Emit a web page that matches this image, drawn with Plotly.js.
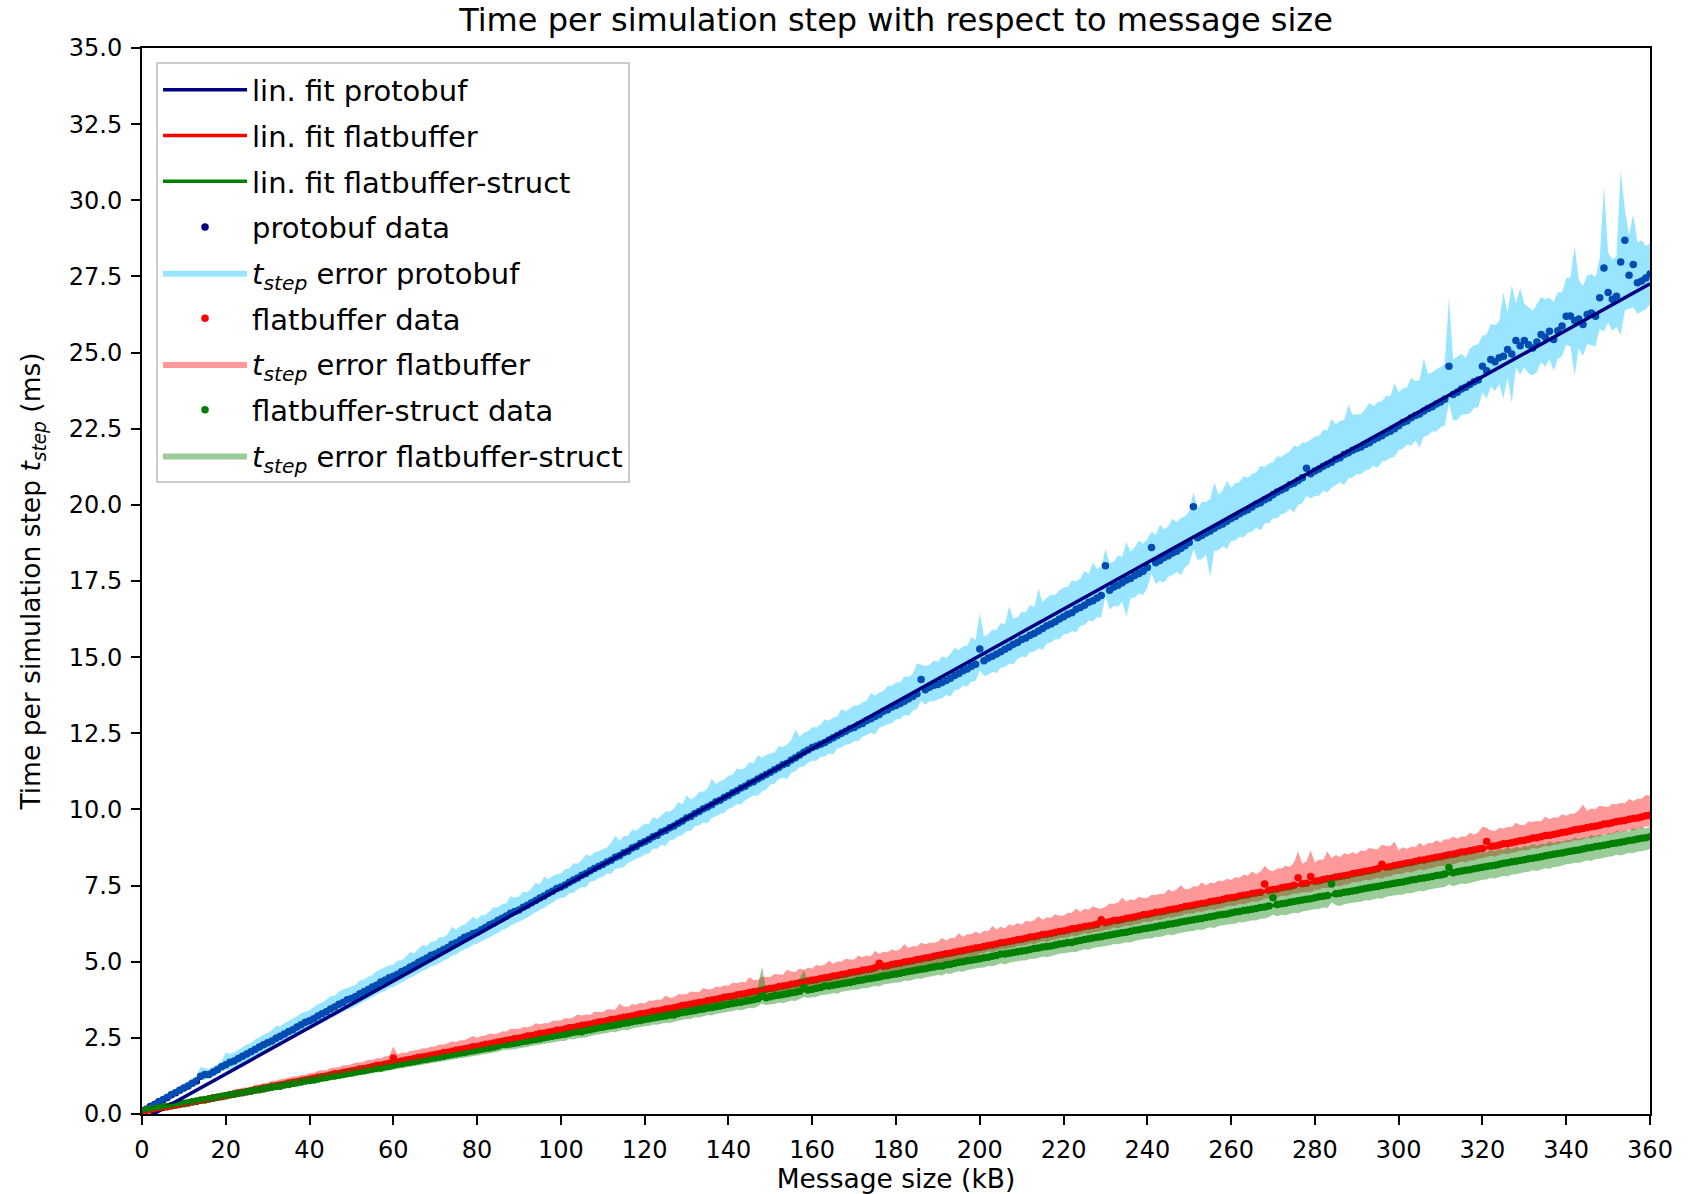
<!DOCTYPE html>
<html><head><meta charset="utf-8">
<script src="https://cdn.plot.ly/plotly-3.0.1.min.js"></script>
<style>html,body{margin:0;padding:0;background:#fff}</style>
</head><body><div id="chart" style="width:1691px;height:1194px"></div>
<script>
const sizeKB = [
0,1,2,3,4,5,6,7,8,9,10,11,12,13,14,15,16,17,18,19,20,21,22,23,24,25,26,27,28,29,
30,31,32,33,34,35,36,37,38,39,40,41,42,43,44,45,46,47,48,49,50,51,52,53,54,55,56,57,58,59,
60,61,62,63,64,65,66,67,68,69,70,71,72,73,74,75,76,77,78,79,80,81,82,83,84,85,86,87,88,89,
90,91,92,93,94,95,96,97,98,99,100,101,102,103,104,105,106,107,108,109,110,111,112,113,114,115,116,117,118,119,
120,121,122,123,124,125,126,127,128,129,130,131,132,133,134,135,136,137,138,139,140,141,142,143,144,145,146,147,148,149,
150,151,152,153,154,155,156,157,158,159,160,161,162,163,164,165,166,167,168,169,170,171,172,173,174,175,176,177,178,179,
180,181,182,183,184,185,186,187,188,189,190,191,192,193,194,195,196,197,198,199,200,201,202,203,204,205,206,207,208,209,
210,211,212,213,214,215,216,217,218,219,220,221,222,223,224,225,226,227,228,229,230,231,232,233,234,235,236,237,238,239,
240,241,242,243,244,245,246,247,248,249,250,251,252,253,254,255,256,257,258,259,260,261,262,263,264,265,266,267,268,269,
270,271,272,273,274,275,276,277,278,279,280,281,282,283,284,285,286,287,288,289,290,291,292,293,294,295,296,297,298,299,
300,301,302,303,304,305,306,307,308,309,310,311,312,313,314,315,316,317,318,319,320,321,322,323,324,325,326,327,328,329,
330,331,332,333,334,335,336,337,338,339,340,341,342,343,344,345,346,347,348,349,350,351,352,353,354,355,356,357,358,359,360];

const protoY = [
0.10,0.16,0.25,0.31,0.40,0.47,0.54,0.63,0.70,0.78,
0.85,0.92,1.01,1.08,1.24,1.30,1.30,1.38,1.45,1.55,
1.62,1.70,1.74,1.82,1.90,1.97,2.04,2.12,2.20,2.27,
2.34,2.40,2.49,2.55,2.63,2.71,2.77,2.86,2.93,3.01,
3.06,3.13,3.22,3.29,3.36,3.45,3.51,3.60,3.66,3.75,
3.79,3.86,3.95,4.01,4.09,4.17,4.23,4.33,4.39,4.47,
4.52,4.59,4.68,4.74,4.83,4.89,4.98,5.05,5.12,5.21,
5.25,5.33,5.40,5.47,5.57,5.62,5.71,5.80,5.85,5.93,
5.97,6.05,6.12,6.21,6.27,6.36,6.43,6.50,6.59,6.65,
6.70,6.79,6.85,6.94,7.01,7.09,7.16,7.25,7.31,7.40,
7.45,7.52,7.61,7.68,7.75,7.84,7.90,7.99,8.06,8.13,
8.19,8.27,8.33,8.43,8.48,8.58,8.63,8.73,8.78,8.88,
8.94,9.01,9.10,9.15,9.26,9.31,9.40,9.46,9.55,9.62,
9.72,9.77,9.87,9.93,10.02,10.08,10.15,10.25,10.30,10.39,
10.46,10.55,10.61,10.70,10.76,10.86,10.91,11.00,11.07,11.15,
11.22,11.30,11.38,11.47,11.52,11.62,11.70,11.79,11.88,11.95,
12.03,12.08,12.14,12.20,12.28,12.35,12.43,12.50,12.57,12.65,
12.69,12.77,12.82,12.92,12.98,13.05,13.12,13.22,13.27,13.36,
13.41,13.48,13.55,13.63,13.71,13.80,14.27,13.93,14.01,14.08,
14.10,14.17,14.23,14.31,14.40,14.46,14.55,14.61,14.70,14.77,
15.27,14.88,14.97,15.03,15.10,15.18,15.26,15.33,15.42,15.48,
15.58,15.63,15.72,15.78,15.86,15.94,16.03,16.09,16.16,16.25,
16.33,16.41,16.46,16.57,16.63,16.70,16.80,16.85,16.94,17.02,
18.00,17.20,17.30,17.36,17.44,17.53,17.58,17.68,17.75,17.82,
17.94,18.60,18.10,18.17,18.27,18.33,18.42,18.48,18.57,18.66,
18.76,19.94,18.92,18.99,19.08,19.14,19.23,19.31,19.37,19.46,
19.55,19.62,19.71,19.78,19.84,19.93,20.02,20.07,20.17,20.23,
20.33,20.42,20.49,20.55,20.66,20.71,20.80,20.89,21.20,21.02,
21.11,21.18,21.27,21.33,21.40,21.50,21.55,21.65,21.71,21.79,
21.85,21.90,21.98,22.04,22.14,22.20,22.27,22.36,22.42,22.50,
22.60,22.70,22.75,22.86,22.93,22.98,23.08,23.16,23.22,23.31,
23.38,23.47,24.55,23.62,23.70,23.80,23.86,23.95,24.04,24.10,
24.55,24.40,24.77,24.70,24.83,24.88,25.10,24.95,25.40,25.22,
25.40,25.26,25.15,25.35,25.59,25.50,25.70,25.43,25.72,25.87,
26.19,26.20,26.05,26.10,25.92,26.25,26.30,26.19,26.80,27.78,
26.97,26.75,26.85,27.97,28.69,27.54,27.89,27.29,27.35,27.45,27.58];

const protoErrLo = [
.08,.08,.09,.09,.10,.10,.10,.11,.11,.12,
.12,.12,.13,.13,.10,.18,.14,.14,.15,.15,
.18,.22,.22,.23,.23,.23,.24,.24,.25,.25,
.25,.27,.26,.26,.28,.27,.28,.27,.29,.28,
.30,.28,.29,.30,.31,.30,.31,.32,.31,.32,
.33,.31,.33,.32,.34,.34,.32,.34,.35,.33,
.35,.34,.36,.34,.36,.35,.37,.35,.37,.36,
.37,.38,.36,.38,.37,.39,.37,.39,.38,.37,
.38,.40,.38,.40,.39,.41,.39,.41,.40,.39,
.39,.41,.39,.41,.39,.38,.40,.38,.37,.36,
.36,.40,.35,.42,.37,.39,.46,.36,.41,.38,
.40,.37,.44,.39,.42,.48,.39,.43,.40,.45,
.41,.46,.39,.44,.42,.51,.41,.45,.42,.47,
.43,.48,.41,.46,.44,.53,.42,.47,.45,.50,
.44,.49,.43,.54,.46,.48,.45,.56,.47,.50,
.40,.46,.39,.43,.52,.41,.45,.40,.48,.42,
.43,.49,.41,.46,.44,.55,.42,.47,.45,.50,
.44,.52,.43,.48,.46,.58,.45,.49,.47,.53,
.46,.51,.45,.56,.47,.50,.70,.49,.46,.54,
.48,.53,.47,.60,.49,.52,.48,.57,.50,.55,
.70,.50,.56,.52,.62,.53,.58,.54,.66,.55,
.56,.63,.55,.60,.57,.70,.58,.61,.57,.66,
.58,.64,.60,.75,.61,.65,.60,.68,.62,.72,
1.00,.64,.62,.70,.63,1.20,.65,.72,.66,.78,
.66,.85,.70,.67,.82,.69,.73,.68,.88,.71,
.70,1.40,.72,.78,.71,1.50,.74,.80,.73,.90,
.74,.79,.76,.85,.75,.81,.77,.92,.78,.83,
.78,.86,.80,.82,.79,.95,.80,.84,.90,.81,
.82,.88,.81,.92,.83,.86,.82,1.00,.84,.89,
.84,.90,.85,.88,.86,.98,.85,.91,.87,.93,
.80,.86,.78,.92,.82,1.10,.84,.88,.81,.90,
.83,.87,1.20,.85,.91,.84,.89,.95,.86,.90,
.85,.92,.88,.96,.87,1.40,.90,1.60,.89,.94,
.88,.95,.90,.99,.91,.97,.92,1.02,.93,.98,
.94,1.00,1.80,.96,1.03,.97,1.05,.99,1.02,2.10,
.98,1.04,1.00,2.40,2.30,1.10,1.40,1.02,.99,1.03,1.00];

const protoErrHi = [
.10,.10,.11,.11,.12,.12,.13,.13,.14,.14,
.15,.15,.16,.16,.30,.20,.17,.17,.18,.18,
.40,.27,.28,.29,.30,.31,.29,.33,.31,.34,
.32,.35,.40,.33,.36,.34,.37,.35,.38,.36,
.35,.38,.39,.36,.40,.42,.37,.41,.43,.38,
.40,.38,.44,.41,.42,.39,.46,.42,.44,.41,
.38,.44,.37,.42,.48,.39,.43,.51,.40,.45,
.42,.47,.40,.44,.58,.42,.46,.41,.49,.54,
.42,.48,.41,.46,.52,.43,.47,.42,.56,.45,
.44,.51,.43,.47,.58,.45,.64,.46,.50,.47,
.45,.52,.44,.55,.47,.50,.63,.47,.53,.49,
.51,.48,.57,.71,.49,.55,.50,.60,.52,.54,
.59,.51,.65,.53,.55,.62,.52,.57,.69,.55,
.75,.56,.54,.64,.57,.61,.87,.58,.63,.59,
.65,.58,.73,.60,.62,.69,.61,.77,.63,.64,
.62,.57,.70,.58,.61,.66,.92,.60,.64,.61,
.68,.61,.65,.76,.63,.67,.62,.80,.65,.68,
.72,.64,.70,.66,.84,.68,.72,.67,.78,.70,
.76,.69,.82,.72,.74,1.00,.48,.78,.73,.80,
.75,.86,.74,.79,.92,.77,.81,.76,.96,.79,
1.18,.80,.77,.88,.79,.94,.82,1.34,.85,.83,
.90,.84,1.00,.86,1.38,.87,.92,.97,.88,.94,
.96,.89,1.06,.91,.95,1.14,.92,1.24,.96,.94,
.55,.88,.84,.98,.86,1.25,.88,.93,1.08,.90,
.94,.52,.91,1.18,.93,.97,1.12,.95,1.00,.97,
1.02,.48,.98,1.10,1.01,1.05,1.50,1.03,1.10,1.32,
1.02,1.10,1.03,1.17,1.05,1.09,1.04,1.21,1.07,1.13,
1.06,1.18,1.08,1.13,1.09,1.25,1.11,1.16,.85,1.12,
1.13,1.09,1.19,1.12,1.42,1.15,1.21,1.14,1.58,1.17,
1.12,1.08,1.16,1.31,1.10,1.18,1.13,1.22,1.15,1.50,
1.10,1.12,1.11,1.31,1.13,1.12,1.73,1.14,1.13,1.15,
1.14,1.16,2.25,1.15,1.17,1.16,0.97,1.18,1.20,1.17,
1.00,1.19,1.18,1.20,1.19,2.10,1.21,2.27,1.22,1.90,
1.21,1.23,1.22,1.24,1.23,1.25,1.10,1.24,1.26,1.10,
1.25,1.27,2.44,1.28,1.27,1.29,1.28,1.30,1.29,2.68,
1.31,1.30,1.32,3.00,1.00,1.33,1.64,1.32,1.34,1.05,1.00];

const flatY = [
0.10,0.12,0.14,0.16,0.19,0.21,0.24,0.26,0.29,0.31,
0.34,0.36,0.39,0.41,0.45,0.46,0.49,0.53,0.55,0.57,
0.60,0.63,0.66,0.69,0.71,0.73,0.76,0.80,0.82,0.85,
0.87,0.91,0.93,0.95,0.98,1.02,1.04,1.06,1.09,1.12,
1.14,1.17,1.21,1.22,1.25,1.28,1.32,1.33,1.36,1.39,
1.41,1.44,1.48,1.49,1.52,1.55,1.59,1.60,1.63,1.66,
1.84,1.71,1.74,1.77,1.79,1.82,1.86,1.87,1.90,1.93,
1.95,1.98,2.02,2.03,2.06,2.09,2.12,2.14,2.17,2.21,
2.22,2.25,2.29,2.30,2.33,2.36,2.39,2.41,2.44,2.48,
2.49,2.52,2.56,2.57,2.60,2.64,2.65,2.68,2.71,2.75,
2.76,2.79,2.83,2.84,2.87,2.91,2.92,2.95,2.98,3.02,
3.03,3.06,3.10,3.11,3.14,3.18,3.19,3.22,3.25,3.29,
3.30,3.33,3.37,3.38,3.41,3.45,3.46,3.49,3.52,3.56,
3.58,3.60,3.64,3.66,3.68,3.72,3.74,3.76,3.79,3.83,
3.85,3.87,3.91,3.93,3.95,3.99,4.01,4.03,4.06,4.10,
4.12,4.14,4.18,4.20,4.22,4.26,4.28,4.31,4.33,4.37,
4.39,4.41,4.45,4.47,4.49,4.53,4.55,4.58,4.60,4.64,
4.66,4.68,4.72,4.74,4.76,4.80,4.95,4.85,4.87,4.91,
4.93,4.95,4.99,5.01,5.03,5.07,5.09,5.12,5.14,5.18,
5.20,5.23,5.26,5.28,5.31,5.34,5.36,5.39,5.42,5.45,
5.47,5.50,5.53,5.55,5.58,5.62,5.63,5.66,5.69,5.72,
5.74,5.77,5.81,5.82,5.85,5.89,5.90,5.93,5.96,5.99,
6.01,6.04,6.08,6.09,6.12,6.16,6.17,6.20,6.23,6.38,
6.28,6.31,6.35,6.36,6.39,6.43,6.44,6.47,6.50,6.54,
6.55,6.58,6.62,6.63,6.66,6.70,6.72,6.74,6.77,6.81,
6.83,6.85,6.89,6.91,6.93,6.97,6.99,7.01,7.04,7.08,
7.10,7.12,7.16,7.18,7.20,7.24,7.26,7.28,7.55,7.35,
7.37,7.39,7.43,7.45,7.47,7.51,7.76,7.56,7.58,7.80,
7.64,7.66,7.70,7.72,7.74,7.78,7.80,7.82,7.85,7.89,
7.91,7.94,7.97,7.99,8.02,8.05,8.20,8.10,8.12,8.16,
8.18,8.21,8.24,8.26,8.29,8.33,8.34,8.37,8.40,8.43,
8.45,8.48,8.51,8.53,8.56,8.60,8.61,8.64,8.67,8.70,
8.72,8.95,8.79,8.80,8.83,8.87,8.88,8.91,8.94,8.97,
8.99,9.02,9.06,9.07,9.10,9.14,9.15,9.18,9.21,9.24,
9.26,9.29,9.33,9.35,9.37,9.41,9.43,9.45,9.48,9.52,
9.53,9.56,9.60,9.62,9.64,9.68,9.70,9.72,9.75,9.79,9.81];

const flatErrLo = [
.04,.05,.04,.06,.05,.05,.07,.06,.06,.07,
.07,.08,.07,.08,.09,.08,.08,.10,.09,.09,
.09,.08,.10,.09,.09,.10,.10,.09,.11,.10,
.10,.11,.10,.11,.12,.11,.11,.12,.11,.12,
.12,.13,.12,.14,.13,.13,.14,.13,.14,.15,
.14,.15,.14,.15,.15,.14,.16,.15,.16,.16,
.19,.15,.16,.15,.17,.16,.16,.18,.16,.17,
.17,.18,.17,.17,.19,.18,.18,.19,.18,.19,
.18,.18,.19,.18,.19,.20,.18,.19,.20,.19,
.19,.20,.19,.21,.20,.19,.21,.20,.20,.21,
.20,.22,.20,.23,.21,.21,.24,.21,.23,.22,
.22,.24,.21,.23,.25,.22,.24,.22,.25,.23,
.23,.25,.22,.26,.23,.24,.23,.26,.24,.23,
.24,.26,.24,.27,.24,.25,.26,.24,.27,.25,
.25,.27,.25,.28,.26,.25,.27,.26,.28,.26,
.26,.28,.26,.29,.27,.26,.28,.27,.29,.27,
.27,.29,.27,.30,.28,.27,.29,.28,.30,.28,
.28,.30,.28,.31,.29,.28,.40,.29,.31,.29,
.29,.31,.29,.32,.30,.29,.31,.30,.32,.30,
.30,.32,.30,.33,.31,.30,.32,.31,.33,.31,
.20,.22,.19,.23,.21,.20,.24,.21,.23,.20,
.21,.23,.20,.24,.22,.21,.25,.22,.24,.21,
.22,.24,.21,.25,.23,.22,.26,.23,.25,.38,
.23,.25,.22,.26,.24,.23,.27,.24,.26,.23,
.24,.26,.23,.27,.25,.24,.28,.25,.27,.24,
.25,.27,.24,.28,.26,.25,.29,.26,.28,.25,
.26,.28,.25,.29,.27,.26,.30,.27,.48,.26,
.27,.29,.26,.30,.28,.27,.52,.28,.30,.52,
.28,.30,.27,.31,.29,.28,.32,.29,.31,.28,
.29,.31,.28,.32,.30,.29,.48,.30,.32,.29,
.30,.32,.29,.33,.31,.30,.34,.31,.33,.30,
.31,.33,.30,.34,.32,.31,.35,.32,.34,.31,
.32,.52,.31,.35,.33,.32,.36,.33,.35,.32,
.33,.35,.32,.36,.34,.33,.37,.34,.36,.33,
.34,.36,.33,.37,.35,.34,.38,.35,.37,.34,
.35,.37,.34,.38,.36,.35,.39,.36,.38,.35,.36];

const flatErrHi = [
.05,.05,.06,.07,.06,.07,.08,.07,.08,.09,
.08,.10,.09,.11,.10,.12,.10,.13,.11,.12,
.14,.12,.15,.13,.16,.14,.13,.17,.15,.16,
.15,.18,.16,.19,.17,.16,.20,.18,.19,.17,
.21,.18,.20,.22,.19,.23,.20,.21,.24,.21,
.22,.25,.21,.23,.26,.22,.24,.23,.27,.24,
.38,.25,.27,.24,.28,.26,.25,.29,.26,.28,
.27,.30,.26,.29,.33,.27,.30,.28,.31,.35,
.28,.31,.29,.34,.30,.28,.33,.30,.36,.31,
.30,.34,.29,.32,.38,.31,.33,.30,.35,.32,
.31,.36,.30,.34,.40,.32,.35,.31,.38,.33,
.32,.37,.34,.31,.48,.35,.33,.39,.34,.36,
.33,.40,.35,.38,.34,.44,.36,.34,.41,.37,
.35,.42,.37,.34,.46,.38,.36,.43,.37,.40,
.36,.44,.38,.41,.37,.50,.39,.37,.45,.40,
.38,.46,.40,.37,.52,.41,.39,.47,.40,.43,
.39,.48,.41,.44,.55,.40,.46,.42,.50,.43,
.41,.52,.43,.46,.42,.56,.30,.48,.44,.50,
.42,.47,.58,.44,.49,.43,.53,.45,.48,.44,
.46,.55,.44,.50,.47,.60,.45,.51,.48,.54,
.45,.52,.47,.62,.48,.53,.46,.57,.49,.55,
.47,.58,.50,.54,.64,.49,.56,.51,.60,.52,
.50,.57,.52,.66,.51,.58,.54,.62,.53,.36,
.52,.60,.55,.58,.72,.54,.61,.56,.63,.55,
.54,.62,.57,.60,.56,.68,.58,.64,.74,.57,
.56,.63,.58,.70,.57,.62,.59,.66,.60,.64,
.58,.65,.60,.68,.62,.72,.61,.67,.60,.66,
.60,.68,.63,.70,.64,.75,.86,.66,.72,.85,
.62,.70,.65,.90,.66,.72,.64,.74,.67,.70,
.63,.72,.66,.75,.68,.64,.64,.70,.67,.78,
.48,.55,.46,.52,.47,.58,.46,.53,.49,.56,
.47,.54,.50,.58,.48,.52,.49,.60,.50,.55,
.71,.45,.52,.49,.57,.50,.54,.51,.62,.52,
.50,.58,.53,.55,.51,.63,.53,.56,.52,.60,
.53,.57,.54,.62,.79,.55,.60,.56,.64,.57,
.55,.62,.57,.60,.56,.66,.58,.63,.60,.68,.65];

const structY = [
0.10,0.13,0.15,0.18,0.20,0.23,0.25,0.28,0.30,0.33,
0.35,0.37,0.40,0.43,0.45,0.48,0.50,0.52,0.55,0.58,
0.60,0.63,0.65,0.67,0.70,0.73,0.75,0.78,0.80,0.82,
0.85,0.88,0.90,0.91,0.95,0.97,1.00,1.03,1.05,1.08,
1.10,1.12,1.15,1.18,1.20,1.23,1.25,1.27,1.30,1.33,
1.35,1.38,1.40,1.42,1.45,1.48,1.50,1.51,1.55,1.57,
1.60,1.63,1.65,1.68,1.70,1.72,1.75,1.78,1.80,1.83,
1.85,1.87,1.90,1.93,1.95,1.98,2.00,2.02,2.05,2.08,
2.10,2.13,2.15,2.17,2.20,2.23,2.28,2.28,2.30,2.32,
2.35,2.38,2.40,2.43,2.45,2.47,2.50,2.53,2.55,2.58,
2.60,2.62,2.65,2.68,2.70,2.70,2.75,2.77,2.80,2.83,
2.85,2.88,2.90,2.92,2.95,2.98,3.00,3.03,3.05,3.07,
3.10,3.13,3.15,3.18,3.20,3.22,3.25,3.25,3.30,3.33,
3.35,3.37,3.40,3.43,3.45,3.48,3.50,3.52,3.55,3.58,
3.60,3.63,3.65,3.67,3.70,3.73,3.75,3.78,3.95,3.82,
3.85,3.88,3.90,3.92,3.95,3.98,4.00,4.03,4.17,4.07,
4.10,4.13,4.15,4.20,4.20,4.23,4.25,4.28,4.30,4.32,
4.35,4.38,4.40,4.43,4.45,4.47,4.50,4.53,4.55,4.58,
4.60,4.62,4.65,4.68,4.70,4.73,4.75,4.77,4.80,4.83,
4.85,4.86,4.90,4.92,4.95,4.98,5.00,5.03,5.05,5.07,
5.10,5.13,5.15,5.18,5.20,5.25,5.25,5.28,5.30,5.33,
5.35,5.37,5.40,5.43,5.45,5.48,5.50,5.52,5.55,5.58,
5.60,5.63,5.63,5.67,5.70,5.73,5.75,5.78,5.80,5.82,
5.85,5.88,5.90,5.93,5.95,5.97,6.00,6.03,6.05,6.08,
6.10,6.12,6.15,6.18,6.20,6.23,6.25,6.27,6.30,6.33,
6.35,6.38,6.40,6.42,6.45,6.48,6.50,6.53,6.55,6.57,
6.60,6.63,6.65,6.68,6.70,6.72,6.75,6.78,6.80,6.83,
7.10,6.88,6.90,6.92,6.95,6.98,7.00,7.03,7.05,7.07,
7.10,7.13,7.15,7.17,7.55,7.23,7.25,7.28,7.30,7.32,
7.35,7.38,7.40,7.43,7.45,7.47,7.50,7.53,7.55,7.58,
7.60,7.62,7.65,7.68,7.70,7.73,7.75,7.77,7.80,7.83,
7.85,7.88,8.09,7.92,7.95,7.98,8.00,8.02,8.05,8.08,
8.10,8.13,8.15,8.17,8.20,8.23,8.25,8.28,8.30,8.32,
8.35,8.38,8.40,8.42,8.45,8.48,8.50,8.53,8.55,8.57,
8.60,8.63,8.65,8.67,8.70,8.73,8.75,8.78,8.80,8.82,
8.85,8.88,8.90,8.92,8.95,8.98,9.00,9.03,9.05,9.07,9.10];

const structErrLo = [
.04,.04,.04,.05,.05,.05,.05,.05,.06,.06,
.06,.06,.06,.07,.07,.07,.07,.07,.08,.08,
.08,.08,.08,.08,.09,.09,.09,.09,.09,.10,
.10,.10,.10,.10,.10,.11,.11,.11,.11,.11,
.11,.12,.12,.12,.12,.12,.12,.13,.13,.13,
.13,.13,.13,.14,.14,.14,.14,.14,.14,.15,
.15,.15,.15,.15,.15,.16,.16,.16,.16,.16,
.16,.16,.17,.17,.17,.17,.17,.17,.18,.18,
.18,.18,.18,.18,.18,.19,.19,.19,.19,.19,
.19,.19,.20,.20,.20,.20,.20,.20,.20,.21,
.20,.22,.19,.23,.21,.20,.24,.21,.22,.21,
.21,.23,.20,.24,.22,.21,.25,.22,.23,.22,
.22,.24,.21,.25,.23,.22,.26,.23,.24,.23,
.23,.25,.22,.26,.24,.23,.27,.24,.25,.24,
.24,.26,.23,.27,.25,.24,.28,.25,.32,.25,
.25,.27,.24,.28,.26,.25,.29,.26,.33,.26,
.26,.28,.25,.29,.27,.26,.30,.27,.28,.27,
.27,.29,.26,.30,.28,.27,.31,.28,.29,.28,
.28,.30,.27,.31,.29,.28,.32,.29,.30,.29,
.29,.31,.28,.32,.30,.29,.33,.30,.31,.30,
.30,.32,.29,.33,.31,.30,.34,.31,.32,.31,
.31,.33,.30,.34,.32,.31,.35,.32,.33,.32,
.32,.34,.31,.35,.33,.32,.36,.33,.34,.33,
.33,.35,.32,.36,.34,.33,.37,.34,.35,.34,
.34,.36,.33,.37,.35,.34,.38,.35,.36,.35,
.35,.37,.34,.38,.36,.35,.39,.36,.37,.36,
.36,.38,.35,.39,.37,.36,.40,.37,.38,.37,
.55,.39,.36,.40,.38,.37,.41,.38,.39,.38,
.38,.40,.37,.41,.60,.38,.42,.39,.40,.39,
.39,.41,.38,.42,.40,.39,.43,.40,.41,.40,
.40,.42,.39,.43,.41,.40,.44,.41,.42,.41,
.41,.43,.55,.44,.42,.41,.45,.42,.43,.42,
.41,.43,.40,.44,.42,.41,.45,.42,.43,.42,
.41,.43,.40,.44,.42,.41,.45,.42,.43,.42,
.40,.42,.39,.43,.41,.40,.44,.41,.42,.41,
.40,.42,.39,.43,.41,.40,.44,.41,.42,.41,.40];

const structErrHi = [
.04,.04,.05,.05,.05,.05,.06,.06,.06,.06,
.06,.07,.07,.07,.07,.07,.08,.08,.08,.08,
.08,.09,.09,.09,.09,.09,.10,.10,.10,.10,
.10,.10,.11,.11,.11,.11,.11,.11,.12,.12,
.12,.12,.12,.12,.12,.13,.13,.13,.13,.13,
.13,.13,.14,.14,.14,.14,.14,.14,.14,.15,
.15,.15,.15,.15,.15,.15,.15,.15,.16,.16,
.16,.16,.16,.16,.16,.16,.17,.17,.17,.17,
.17,.17,.17,.17,.17,.18,.18,.18,.18,.18,
.18,.18,.18,.18,.18,.19,.19,.19,.19,.19,
.18,.22,.19,.24,.20,.21,.25,.20,.23,.21,
.22,.20,.26,.21,.24,.22,.27,.21,.25,.23,
.24,.21,.28,.23,.25,.22,.29,.24,.26,.23,
.25,.30,.24,.27,.23,.31,.25,.28,.24,.30,
.26,.29,.25,.32,.27,.26,.30,.40,.89,.28,
.27,.33,.26,.30,.28,.34,.27,.42,.56,.29,
.30,.28,.35,.29,.32,.30,.36,.29,.33,.31,
.32,.30,.37,.31,.34,.32,.38,.31,.35,.33,
.34,.31,.39,.33,.36,.34,.40,.33,.37,.35,
.36,.33,.41,.35,.38,.36,.42,.35,.39,.37,
.30,.27,.35,.29,.32,.30,.37,.29,.34,.31,
.32,.29,.38,.31,.34,.32,.40,.31,.36,.33,
.34,.31,.42,.33,.37,.34,.44,.33,.39,.36,
.37,.33,.46,.36,.52,.37,.42,.35,.48,.38,
.40,.36,.47,.39,.44,.40,.50,.38,.45,.42,
.42,.39,.52,.41,.47,.43,.54,.40,.48,.44,
.45,.41,.54,.43,.49,.45,.56,.42,.62,.46,
.30,.44,.57,.46,.52,.47,.58,.45,.53,.49,
.50,.46,.58,.48,.35,.50,.60,.47,.55,.51,
.52,.48,.62,.50,.56,.52,.60,.49,.57,.53,
.54,.50,.60,.52,.56,.53,.62,.51,.58,.54,
.53,.50,.42,.52,.55,.50,.58,.49,.54,.48,
.50,.46,.54,.45,.50,.44,.52,.42,.48,.41,
.45,.40,.47,.39,.43,.38,.45,.37,.41,.36,
.40,.36,.43,.35,.39,.34,.41,.34,.38,.33,
.37,.33,.40,.33,.36,.32,.38,.32,.35,.31,.33];

const fitX = [0, 360];
const protoFit = [-0.21, 27.26];
const flatFit = [0.04, 9.80];
const structFit = [0.10, 9.10];

const FONT = 'DejaVu Sans, Verdana, sans-serif';
const TSTEP = '<i>t</i><sub><i>step</i></sub>';

function band(x, y, lo, hi) {
  const up = y.map((v, i) => v + hi[i]);
  const dn = y.map((v, i) => v - lo[i]).reverse();
  return {x: x.concat(x.slice().reverse()), y: up.concat(dn)};
}

function dots(y, color, name, rank) {
  return {type: 'scatter', mode: 'markers', x: sizeKB, y: y, name: name,
    marker: {color: color, size: 7.5, line: {width: 0}},
    legendrank: rank, legendgroup: 'g' + rank, hoverinfo: 'x+y'};
}
function fillBand(y, lo, hi, color, name, rank) {
  const b = band(sizeKB, y, lo, hi);
  return {type: 'scatter', mode: 'lines', x: b.x, y: b.y, fill: 'toself',
    fillcolor: color, line: {width: 0, color: color}, name: name,
    legendrank: rank, legendgroup: 'g' + rank, hoverinfo: 'skip'};
}
function fit(y, color, name, rank) {
  return {type: 'scatter', mode: 'lines', x: fitX, y: y, name: name,
    line: {color: color, width: 3.5}, legendrank: rank, legendgroup: 'g' + rank};
}

const traces = [
  dots(protoY, '#000080', 'protobuf data', 4),
  fillBand(protoY, protoErrLo, protoErrHi, 'rgba(0,191,255,0.4)', TSTEP + ' error protobuf', 5),
  dots(flatY, '#ff0000', 'flatbuffer data', 6),
  fillBand(flatY, flatErrLo, flatErrHi, 'rgba(255,0,0,0.4)', TSTEP + ' error flatbuffer', 7),
  dots(structY, '#008000', 'flatbuffer-struct data', 8),
  fillBand(structY, structErrLo, structErrHi, 'rgba(0,128,0,0.4)', TSTEP + ' error flatbuffer-struct', 9),
  fit(protoFit, '#000080', 'lin. fit protobuf', 1),
  fit(flatFit, '#ff0000', 'lin. fit flatbuffer', 2),
  fit(structFit, '#008000', 'lin. fit flatbuffer-struct', 3)
];

const axisCommon = {
  showgrid: false, zeroline: false, showline: true, mirror: true,
  linecolor: '#000', linewidth: 2, ticks: 'outside', ticklen: 9, tickwidth: 2,
  tickcolor: '#000', tickfont: {family: FONT, size: 24, color: '#000'},
  ticklabelstandoff: 4
};

const layout = {
  width: 1691, height: 1194,
  margin: {l: 142, r: 41, t: 48, b: 80},
  paper_bgcolor: '#fff', plot_bgcolor: '#fff',
  font: {family: FONT, color: '#000'},
  title: {text: 'Time per simulation step with respect to message size',
    font: {family: FONT, size: 32, color: '#000'},
    x: 0.5, xref: 'paper', xanchor: 'center', y: 0.983, yref: 'container', yanchor: 'middle'},
  xaxis: Object.assign({}, axisCommon, {range: [0, 360], dtick: 20, tick0: 0,
    title: {text: 'Message size (kB)', font: {family: FONT, size: 26.5, color: '#000'}, standoff: 8}}),
  yaxis: Object.assign({}, axisCommon, {range: [0, 35], dtick: 2.5, tick0: 0, tickformat: '.1f',
    title: {text: 'Time per simulation step ' + TSTEP + ' (ms)', font: {family: FONT, size: 26.5, color: '#000'}, standoff: 20}}),
  showlegend: true,
  legend: {x: 0.0093, y: 0.9864, xanchor: 'left', yanchor: 'top',
    bgcolor: 'rgba(255,255,255,0.8)', bordercolor: '#cccccc', borderwidth: 2,
    font: {family: FONT, size: 29, color: '#000'}, traceorder: 'grouped', tracegroupgap: 5,
    itemwidth: 84}
};

Plotly.newPlot('chart', traces, layout, {staticPlot: true, displayModeBar: false});
</script>
</body></html>
